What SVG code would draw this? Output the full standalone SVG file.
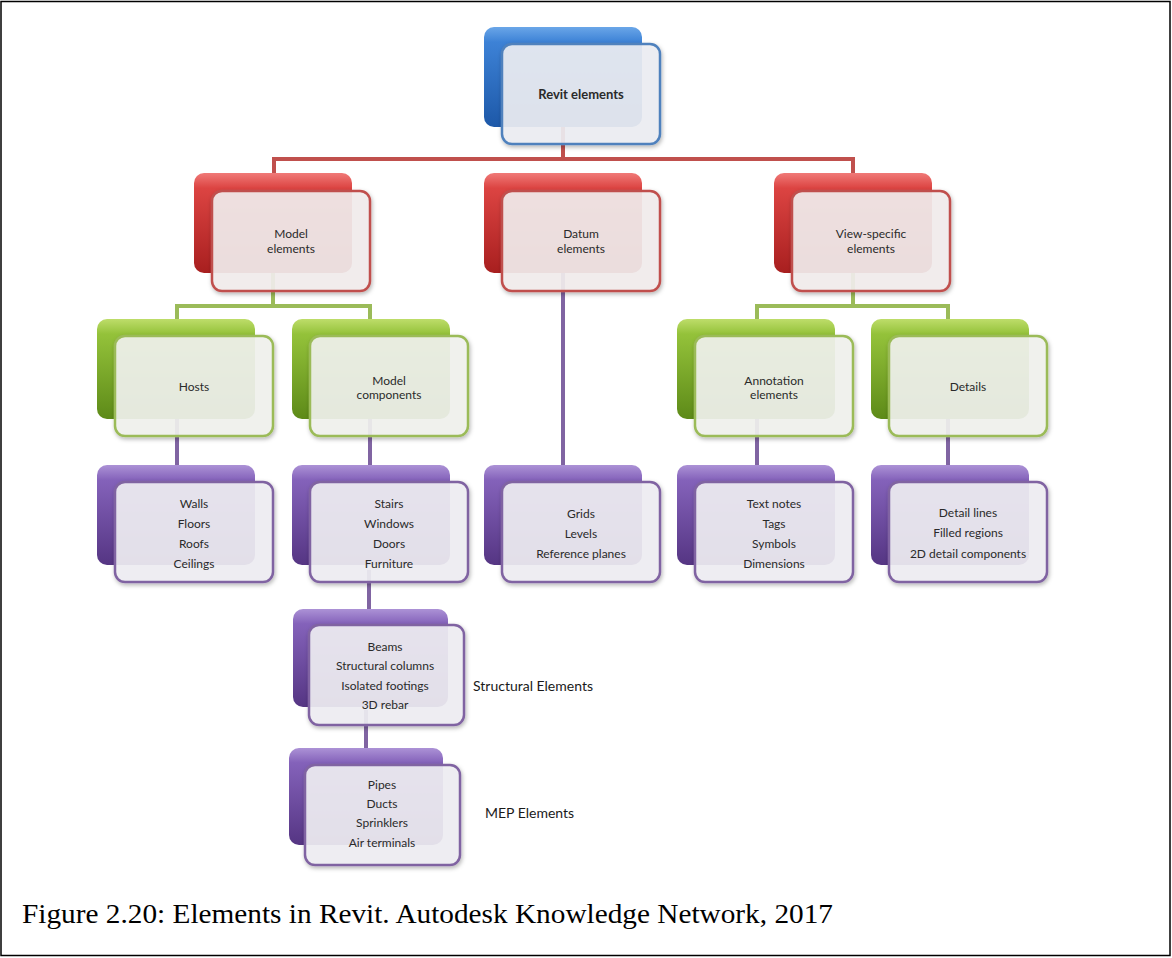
<svg xmlns="http://www.w3.org/2000/svg" width="1172" height="958" viewBox="0 0 1172 958">
<defs>
<linearGradient id="gBlue" x1="0" y1="0" x2="0" y2="1"><stop offset="0" stop-color="#6aa6e8"/><stop offset="0.15" stop-color="#3d82d6"/><stop offset="1" stop-color="#1d58a8"/></linearGradient>
<linearGradient id="gRed" x1="0" y1="0" x2="0" y2="1"><stop offset="0" stop-color="#f07a78"/><stop offset="0.15" stop-color="#dc4442"/><stop offset="1" stop-color="#a81f1f"/></linearGradient>
<linearGradient id="gGreen" x1="0" y1="0" x2="0" y2="1"><stop offset="0" stop-color="#bedd6a"/><stop offset="0.15" stop-color="#94c23a"/><stop offset="1" stop-color="#5d8a18"/></linearGradient>
<linearGradient id="gPurple" x1="0" y1="0" x2="0" y2="1"><stop offset="0" stop-color="#ac92d6"/><stop offset="0.15" stop-color="#8462ba"/><stop offset="1" stop-color="#553583"/></linearGradient>
<filter id="sh" x="-10%" y="-10%" width="125%" height="130%"><feDropShadow dx="1" dy="2" stdDeviation="2" flood-color="#000" flood-opacity="0.3"/></filter>
</defs>
<style>
.back{stroke:none}
.front{fill:#eef0f4;fill-opacity:0.9;stroke-width:2.5;filter:url(#sh)}
.fb{stroke:#4f81bd}
.fr{stroke:#c0504d;fill:#f3eeee}
.fg{stroke:#9bbb59;fill:#f2f3ef}
.fp{stroke:#8064a2;fill:#f1f0f4}
.t{font-family:Lato,"Liberation Sans",sans-serif;font-size:12px;fill:#2a2a2a;text-anchor:middle;dominant-baseline:central}
.tb{font-weight:bold;font-size:13px}
.lab{font-family:Lato,"Liberation Sans",sans-serif;font-size:14px;fill:#1a1a1a;dominant-baseline:central}
.cap{font-family:"Liberation Serif","Times New Roman",serif;font-size:28px;fill:#000}
.c{fill:none;stroke-width:4}
.cr{stroke:#c0504d}
.cg{stroke:#9bbb59}
.cp{stroke:#8064a2}
</style>
<rect x="1" y="1.5" width="1169" height="954" fill="#fff" stroke="#000" stroke-width="1.5"/>
<g id="connectors">
<path class="c cr" d="M563,110 V159"/>
<path class="c cr" d="M274,175 V159 H853 V175"/>
<path class="c cg" d="M273,270 V306"/>
<path class="c cg" d="M177,321 V306 H370 V321"/>
<path class="c cg" d="M853,270 V306"/>
<path class="c cg" d="M757,321 V306 H948 V321"/>
<path class="c cp" d="M177,410 V467"/>
<path class="c cp" d="M370,410 V467"/>
<path class="c cp" d="M563,270 V467"/>
<path class="c cp" d="M757,410 V467"/>
<path class="c cp" d="M948,410 V467"/>
<path class="c cp" d="M369,570 V611"/>
<path class="c cp" d="M366,710 V750"/>
</g>
<g id="root">
<rect class="back" x="484" y="27" width="158" height="100" rx="10" fill="url(#gBlue)"/>
<rect class="front fb" x="502" y="44" width="158" height="100" rx="10"/>
<text class="t tb" x="581" y="94">Revit elements</text>
</g>
<g id="model-elements">
<rect class="back" x="194" y="173" width="158" height="100" rx="10" fill="url(#gRed)"/>
<rect class="front fr" x="212" y="191" width="158" height="100" rx="10"/>
<text class="t" x="291" y="233">Model</text>
<text class="t" x="291" y="248">elements</text>
</g>
<g id="datum-elements">
<rect class="back" x="484" y="173" width="158" height="100" rx="10" fill="url(#gRed)"/>
<rect class="front fr" x="502" y="191" width="158" height="100" rx="10"/>
<text class="t" x="581" y="233">Datum</text>
<text class="t" x="581" y="248">elements</text>
</g>
<g id="view-specific">
<rect class="back" x="774" y="173" width="158" height="100" rx="10" fill="url(#gRed)"/>
<rect class="front fr" x="792" y="191" width="158" height="100" rx="10"/>
<text class="t" x="871" y="233">View-specific</text>
<text class="t" x="871" y="248">elements</text>
</g>
<g id="hosts">
<rect class="back" x="97" y="319" width="158" height="100" rx="10" fill="url(#gGreen)"/>
<rect class="front fg" x="115" y="336" width="158" height="100" rx="10"/>
<text class="t" x="194" y="386">Hosts</text>
</g>
<g id="model-components">
<rect class="back" x="292" y="319" width="158" height="100" rx="10" fill="url(#gGreen)"/>
<rect class="front fg" x="310" y="336" width="158" height="100" rx="10"/>
<text class="t" x="389" y="380">Model</text>
<text class="t" x="389" y="394">components</text>
</g>
<g id="annotation-elements">
<rect class="back" x="677" y="319" width="158" height="100" rx="10" fill="url(#gGreen)"/>
<rect class="front fg" x="695" y="336" width="158" height="100" rx="10"/>
<text class="t" x="774" y="380">Annotation</text>
<text class="t" x="774" y="394">elements</text>
</g>
<g id="details">
<rect class="back" x="871" y="319" width="158" height="100" rx="10" fill="url(#gGreen)"/>
<rect class="front fg" x="889" y="336" width="158" height="100" rx="10"/>
<text class="t" x="968" y="386">Details</text>
</g>
<g id="hosts-list">
<rect class="back" x="97" y="465" width="158" height="100" rx="10" fill="url(#gPurple)"/>
<rect class="front fp" x="115" y="482" width="158" height="100" rx="10"/>
<text class="t" x="194" y="503">Walls</text>
<text class="t" x="194" y="523">Floors</text>
<text class="t" x="194" y="543">Roofs</text>
<text class="t" x="194" y="563">Ceilings</text>
</g>
<g id="components-list">
<rect class="back" x="292" y="465" width="158" height="100" rx="10" fill="url(#gPurple)"/>
<rect class="front fp" x="310" y="482" width="158" height="100" rx="10"/>
<text class="t" x="389" y="503">Stairs</text>
<text class="t" x="389" y="523">Windows</text>
<text class="t" x="389" y="543">Doors</text>
<text class="t" x="389" y="563">Furniture</text>
</g>
<g id="datum-list">
<rect class="back" x="484" y="465" width="158" height="100" rx="10" fill="url(#gPurple)"/>
<rect class="front fp" x="502" y="482" width="158" height="100" rx="10"/>
<text class="t" x="581" y="513">Grids</text>
<text class="t" x="581" y="533">Levels</text>
<text class="t" x="581" y="553">Reference planes</text>
</g>
<g id="annotation-list">
<rect class="back" x="677" y="465" width="158" height="100" rx="10" fill="url(#gPurple)"/>
<rect class="front fp" x="695" y="482" width="158" height="100" rx="10"/>
<text class="t" x="774" y="503">Text notes</text>
<text class="t" x="774" y="523">Tags</text>
<text class="t" x="774" y="543">Symbols</text>
<text class="t" x="774" y="563">Dimensions</text>
</g>
<g id="details-list">
<rect class="back" x="871" y="465" width="158" height="100" rx="10" fill="url(#gPurple)"/>
<rect class="front fp" x="889" y="482" width="158" height="100" rx="10"/>
<text class="t" x="968" y="512">Detail lines</text>
<text class="t" x="968" y="532">Filled regions</text>
<text class="t" x="968" y="553">2D detail components</text>
</g>
<g id="structural-list">
<rect class="back" x="293" y="609" width="155" height="98" rx="10" fill="url(#gPurple)"/>
<rect class="front fp" x="309" y="625" width="155" height="100" rx="10"/>
<text class="t" x="385" y="646">Beams</text>
<text class="t" x="385" y="665.5">Structural columns</text>
<text class="t" x="385" y="685">Isolated footings</text>
<text class="t" x="385" y="704.5">3D rebar</text>
</g>
<text class="lab" x="473" y="685">Structural Elements</text>
<g id="mep-list">
<rect class="back" x="289" y="748" width="154" height="97" rx="10" fill="url(#gPurple)"/>
<rect class="front fp" x="305" y="765" width="155" height="100" rx="10"/>
<text class="t" x="382" y="784">Pipes</text>
<text class="t" x="382" y="803">Ducts</text>
<text class="t" x="382" y="822.5">Sprinklers</text>
<text class="t" x="382" y="842">Air terminals</text>
</g>
<text class="lab" x="485" y="812">MEP Elements</text>
<text class="cap" x="22" y="923" textLength="811" lengthAdjust="spacingAndGlyphs">Figure 2.20: Elements in Revit. Autodesk Knowledge Network, 2017</text>
</svg>
